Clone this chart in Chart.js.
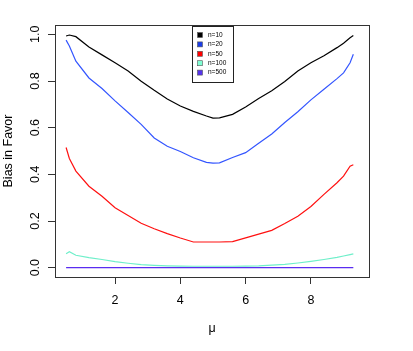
<!DOCTYPE html>
<html>
<head>
<meta charset="utf-8">
<script src="https://cdn.jsdelivr.net/npm/chart.js@4.4.0/dist/chart.umd.min.js"></script>
<style>
  body { margin: 0; background: #fff; }
  #wrap { width: 413px; height: 351px; }
</style>
</head>
<body>
<div id="wrap"><canvas id="chart" width="413" height="351"></canvas></div>
<script>
'use strict';
// data
var mu = [0.5, 0.6, 0.8, 1.2, 1.6, 2.0, 2.4, 2.8, 3.2, 3.6, 4.0, 4.4, 4.8, 5.0,
  5.2, 5.6, 6.0, 6.4, 6.8, 7.2, 7.6, 8.0, 8.4, 8.8, 9.0, 9.2, 9.3];
var n10 = [0.993, 0.997, 0.990, 0.946, 0.912, 0.878, 0.843, 0.799, 0.760, 0.723, 0.693, 0.670, 0.650, 0.641,
  0.642, 0.657, 0.689, 0.725, 0.758, 0.798, 0.843, 0.878, 0.908, 0.943, 0.962, 0.985, 0.995];
var n20 = [0.975, 0.950, 0.885, 0.813, 0.768, 0.715, 0.665, 0.614, 0.556, 0.520, 0.498, 0.471, 0.451, 0.448,
  0.449, 0.472, 0.493, 0.533, 0.573, 0.622, 0.668, 0.719, 0.765, 0.810, 0.835, 0.878, 0.915];
var n50 = [0.515, 0.468, 0.414, 0.349, 0.306, 0.257, 0.224, 0.190, 0.167, 0.146, 0.127, 0.110, 0.110, 0.110,
  0.110, 0.112, 0.128, 0.144, 0.160, 0.189, 0.220, 0.262, 0.314, 0.364, 0.392, 0.435, 0.441];
var n100 = [0.060, 0.068, 0.053, 0.043, 0.035, 0.026, 0.019, 0.013, 0.010, 0.008, 0.007, 0.006, 0.006, 0.006,
  0.006, 0.006, 0.007, 0.008, 0.011, 0.014, 0.020, 0.027, 0.035, 0.044, 0.050, 0.056, 0.059];
var n500 = [0, 0, 0, 0, 0, 0, 0, 0, 0, 0, 0, 0, 0, 0,
  0, 0, 0, 0, 0, 0, 0, 0, 0, 0, 0, 0, 0];
var seriesNames = ['n=10', 'n=20', 'n=50', 'n=100', 'n=500'];
var lineColors = ['#000000', '#3355ff', '#ff1010', '#6fefca', '#5a2cf0'];
var boxColors = ['#000000', '#1a3ee8', '#ff0000', '#7fffd4', '#5533ee'];
var xTicks = [2, 4, 6, 8];
var yTicks = [0, 0.2, 0.4, 0.6, 0.8, 1.0];

Chart.defaults.font.family = "'Liberation Sans', Arial, sans-serif";
Chart.defaults.color = '#000';

function toPoints(vals){
  return mu.map(function(m, i){ return {x: m, y: vals[i]}; });
}
var allSeries = [n10, n20, n50, n100, n500];
var datasets = [];
for (var i = 0; i < allSeries.length; i++) {
  datasets.push({
    label: seriesNames[i],
    data: toPoints(allSeries[i]),
    borderColor: lineColors[i],
    backgroundColor: boxColors[i],
    borderWidth: 1.2,
    pointRadius: 0,
    tension: 0,
    fill: false
  });
}

// box round the plot, like R's box()
var boxPlugin = {
  id: 'plotBox',
  afterDatasetsDraw: function(chart){
    var a = chart.chartArea;
    var ctx = chart.ctx;
    ctx.save();
    ctx.strokeStyle = '#333';
    ctx.lineWidth = 1;
    ctx.strokeRect(Math.round(a.left) + 0.5, Math.round(a.top) + 0.5,
      Math.round(a.right - a.left), Math.round(a.bottom - a.top));
    ctx.restore();
  }
};

// small legend box at the top middle
var legendPlugin = {
  id: 'rLegend',
  afterDraw: function(chart){
    var ctx = chart.ctx;
    var left = 192, top = 26, w = 41, h = 56;
    ctx.save();
    ctx.fillStyle = '#fff';
    ctx.fillRect(left, top, w, h);
    ctx.strokeStyle = '#222';
    ctx.lineWidth = 1;
    ctx.strokeRect(left + 0.5, top + 0.5, w, h);
    ctx.font = "6.5px 'Liberation Sans', Arial, sans-serif";
    ctx.textBaseline = 'middle';
    chart.data.datasets.forEach(function(ds, k){
      var cy = 35 + k * 9.4;
      ctx.fillStyle = ds.backgroundColor;
      ctx.fillRect(197.5, cy - 2.5, 5, 5);
      ctx.strokeStyle = '#555';
      ctx.lineWidth = 0.6;
      ctx.strokeRect(197.5, cy - 2.5, 5, 5);
      ctx.fillStyle = '#000';
      ctx.fillText(ds.label, 208, cy);
    });
    ctx.restore();
  }
};

var ctx = document.getElementById('chart');
var myChart = new Chart(ctx, {
  type: 'line',
  data: { datasets: datasets },
  options: {
    responsive: false,
    devicePixelRatio: 1,
    animation: false,
    layout: { padding: { top: 25, right: 44, left: 0, bottom: 0 } },
    plugins: { legend: { display: false }, tooltip: { enabled: false } },
    scales: {
      x: {
        type: 'linear',
        min: 0.16,
        max: 9.78,
        afterFit: function(s){ s.height = 74; },
        afterBuildTicks: function(s){ s.ticks = xTicks.map(function(v){ return {value: v}; }); },
        grid: { display: true, drawOnChartArea: false, drawTicks: true, tickLength: 7, tickColor: '#333', tickWidth: 1 },
        border: { display: true, color: '#333', width: 1 },
        ticks: {
          autoSkip: false,
          padding: 9,
          font: { size: 12.5 },
          color: '#000',
          maxRotation: 0,
          callback: function(v){ return String(v); }
        },
        title: { display: true, text: 'μ', font: { size: 12.5 }, color: '#000', padding: { top: 0, bottom: 15 } }
      },
      y: {
        type: 'linear',
        min: -0.04,
        max: 1.04,
        afterFit: function(s){ s.width = 55; },
        afterBuildTicks: function(s){ s.ticks = yTicks.map(function(v){ return {value: v}; }); },
        grid: { display: true, drawOnChartArea: false, drawTicks: true, tickLength: 7, tickColor: '#333', tickWidth: 1 },
        border: { display: true, color: '#333', width: 1 },
        ticks: {
          autoSkip: false,
          padding: 4,
          minRotation: 90,
          maxRotation: 90,
          crossAlign: 'center',
          font: { size: 12.5 },
          color: '#000',
          callback: function(v){ return Number(v).toFixed(1); }
        },
        title: { display: true, text: 'Bias in Favor', font: { size: 12.5 }, color: '#000', padding: { top: 1, bottom: 0 } }
      }
    }
  },
  plugins: [boxPlugin, legendPlugin]
});
</script>
</body>
</html>
